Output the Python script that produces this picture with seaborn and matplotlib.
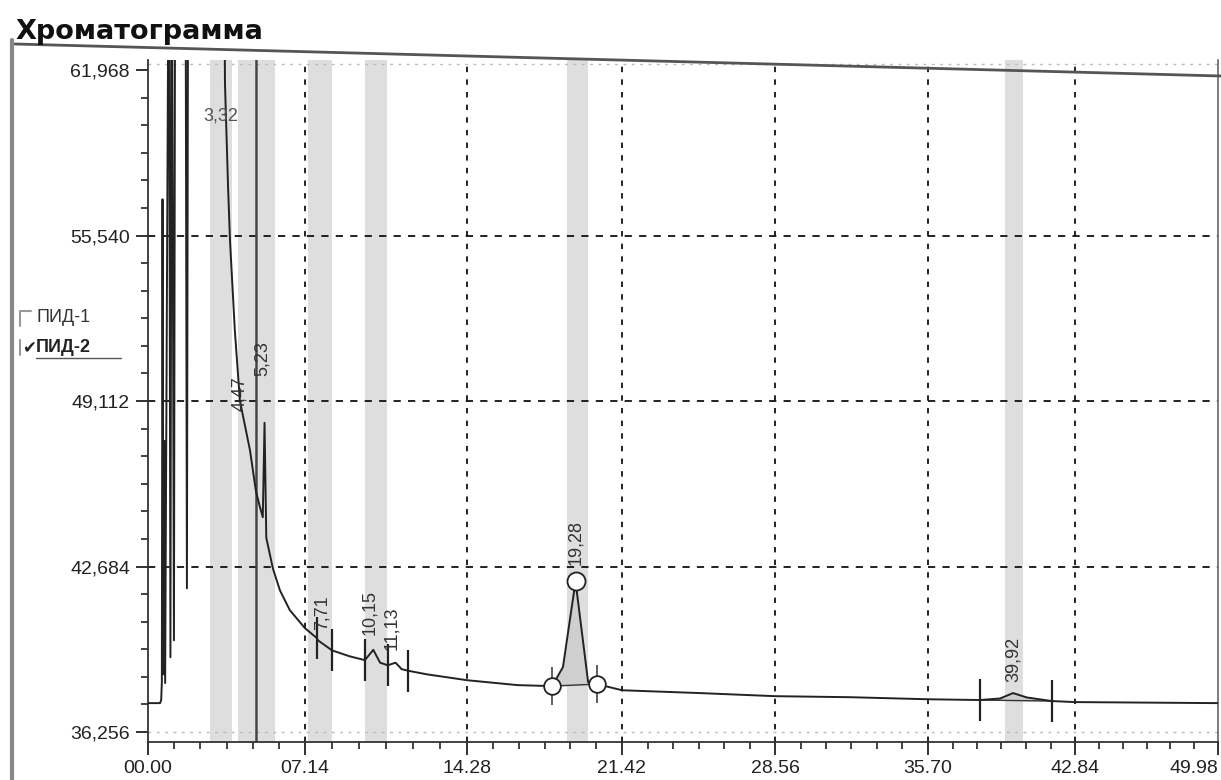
import numpy as np
import pandas as pd
import matplotlib
matplotlib.use("Agg")
import matplotlib.pyplot as plt
from matplotlib.lines import Line2D
import seaborn as sns

# ---------------- data ----------------
time_min = [0.00, 0.55, 0.60, 0.63, 0.66, 0.70, 0.74, 0.78, 0.95, 1.02, 1.08, 1.18,
            1.24, 1.70, 1.77, 1.83, 3.45, 3.50, 3.64, 3.73, 3.95, 4.18, 4.41, 4.64,
            4.91, 5.09, 5.22, 5.30, 5.38, 5.68, 6.00, 6.45, 7.14, 7.67, 7.71, 8.33,
            9.10, 9.78, 10.15, 10.45, 10.79, 11.13, 11.40, 11.67, 12.50, 14.28, 16.60,
            18.20, 18.70, 19.28, 19.86, 20.27, 21.42, 25.06, 28.56, 32.07, 35.70,
            38.22, 39.20, 39.83, 40.50, 41.72, 42.84, 49.98]
signal = [37.38, 37.38, 37.50, 38.20, 56.95, 38.50, 47.57, 38.16, 70.0, 39.16, 70.0, 39.82,
          70.0, 70.0, 41.84, 70.0, 70.0, 61.45, 57.46, 55.33, 51.84, 49.12, 48.16, 47.19,
          45.60, 45.00, 44.60, 48.27, 43.80, 42.61, 41.76, 40.99, 40.29, 39.90, 39.82, 39.43,
          39.20, 39.05, 39.45, 38.95, 38.85, 38.95, 38.70, 38.64, 38.50, 38.27, 38.08,
          38.04, 38.78, 42.11, 38.19, 38.12, 37.88, 37.77, 37.65, 37.61, 37.53,
          37.50, 37.56, 37.77, 37.60, 37.46, 37.42, 37.38]

peak_labels = ["3,32", "4,47", "5,23", "7,71", "10,15", "11,13", "19,28", "39,92"]
label_t = [3.32, 4.18, 5.18, 7.90, 10.00, 10.95, 19.30, 39.83]
label_v = [60.17, 48.74, 50.09, 40.21, 40.02, 39.43, 42.73, 38.19]
label_rot = [0, 90, 90, 90, 90, 90, 90, 90]

band_start = [2.82, 4.09, 5.00, 7.27, 9.78, 18.89, 39.44]
band_end = [3.82, 4.91, 5.77, 8.33, 10.75, 19.86, 40.31]

marker_t = [7.67, 8.33, 9.78, 10.79, 11.67, 38.22, 41.72]
marker_v = [39.90, 39.43, 39.05, 38.85, 38.64, 37.50, 37.46]

peak19_base_t = [18.20, 20.27]
peak19_base_v = [38.04, 38.12]
peak19_apex = (19.28, 42.11)
peak39_base_t = [38.22, 41.72]
peak39_base_v = [37.50, 37.46]

event_line_t = 4.91

x_ticks = [0.00, 7.14, 14.28, 21.42, 28.56, 35.70, 42.84, 49.98]
x_tick_labels = ["00.00", "07.14", "14.28", "21.42", "28.56", "35.70", "42.84", "49.98"]
y_ticks = [36.256, 42.684, 49.112, 55.540, 61.968]
y_tick_labels = ["36,256", "42,684", "49,112", "55,540", "61,968"]

title = "Хроматограмма"
legend_items = ["ПИД-1", "ПИД-2"]

# measured (slightly non-linear, scanned) spacing of the time axis
x_tick_spacing = [0, 157, 319, 474, 627, 780, 927, 1070]


def _fwd(t):
    t = np.asarray(t, dtype=float)
    out = np.interp(t, x_ticks, x_tick_spacing)
    lo = t < x_ticks[0]
    hi = t > x_ticks[-1]
    out = np.where(lo, x_tick_spacing[0] + (t - x_ticks[0]) * 22.0, out)
    out = np.where(hi, x_tick_spacing[-1] + (t - x_ticks[-1]) * 20.0, out)
    return out


def _inv(p):
    p = np.asarray(p, dtype=float)
    out = np.interp(p, x_tick_spacing, x_ticks)
    lo = p < x_tick_spacing[0]
    hi = p > x_tick_spacing[-1]
    out = np.where(lo, x_ticks[0] + (p - x_tick_spacing[0]) / 22.0, out)
    out = np.where(hi, x_ticks[-1] + (p - x_tick_spacing[-1]) / 20.0, out)
    return out


# ---------------- drawing ----------------
sns.set_theme(style="white")
plt.rcParams["font.family"] = ["Liberation Sans", "DejaVu Sans"]

fig = plt.figure(figsize=(12.21, 7.8), dpi=100)
ax = fig.add_axes([148 / 1221, 1 - 742 / 780, (1218 - 148) / 1221, (742 - 60) / 780])
ax.set_xscale("function", functions=(_fwd, _inv))
ax.set_xlim(0, 49.98)
ax.set_ylim(35.87, 62.36)

# gray integration bands
for a, b in zip(band_start, band_end):
    ax.axvspan(a, b, color="#d4d4d4", alpha=0.75, lw=0, zorder=0)

# grid
for xt in x_ticks[1:-1]:
    ax.axvline(xt, color="#111111", lw=1.3, ls=(0, (3, 4)), zorder=1)
for yt in y_ticks[1:-1]:
    ax.axhline(yt, color="#111111", lw=1.3, ls=(0, (4, 4)), zorder=1)
ax.axhline(y_ticks[0], color="#bbbbbb", lw=1.0, ls=(0, (2, 4)), zorder=1)
ax.axhline(62.2, color="#bbbbbb", lw=1.0, ls=(0, (2, 4)), zorder=1)

# event line
ax.axvline(event_line_t, color="#444444", lw=1.8, zorder=2)

df = pd.DataFrame({"t": time_min, "v": signal})

# fill under the integrated peaks
mask19 = (df.t >= peak19_base_t[0]) & (df.t <= peak19_base_t[1])
seg = df[mask19]
base19 = np.interp(seg.t, peak19_base_t, peak19_base_v)
ax.fill_between(seg.t, base19, seg.v, color="#cfcfcf", zorder=2, lw=0)
mask39 = (df.t >= peak39_base_t[0]) & (df.t <= peak39_base_t[1])
seg39 = df[mask39]
base39 = np.interp(seg39.t, peak39_base_t, peak39_base_v)
ax.fill_between(seg39.t, base39, seg39.v, color="#cfcfcf", zorder=2, lw=0)
ax.plot(peak19_base_t, peak19_base_v, color="#333333", lw=1.0, zorder=3)
ax.plot(peak39_base_t, peak39_base_v, color="#333333", lw=1.0, zorder=3)

sns.lineplot(data=df, x="t", y="v", ax=ax, color="#222222", lw=1.4,
             estimator=None, sort=False, zorder=4)

# peak boundary markers
ax.plot(marker_t, marker_v, ls="none", marker="|", ms=30, mew=1.6, color="#222222", zorder=5)
ax.plot(peak19_base_t, peak19_base_v, ls="none", marker="|", ms=28, mew=1.2, color="#444444", zorder=5)
ax.plot(peak19_base_t, peak19_base_v, ls="none", marker="o", ms=12, mfc="white", mec="#222222", mew=1.3, zorder=6)
ax.plot([peak19_apex[0]], [peak19_apex[1]], ls="none", marker="o", ms=13, mfc="white", mec="#222222", mew=1.3, zorder=6)

# peak labels
for s, tt, vv, r in zip(peak_labels, label_t, label_v, label_rot):
    if r == 0:
        ax.text(tt, vv, s, ha="center", va="center", fontsize=13, color="#555555", zorder=7)
    else:
        ax.text(tt, vv, s, ha="center", va="bottom", rotation=90, fontsize=13, color="#333333", zorder=7)

# axes styling
ax.set_xticks(x_ticks)
ax.set_xticklabels(x_tick_labels, fontsize=14, color="#222222")
ax.get_xticklabels()[-1].set_horizontalalignment("right")
ax.set_yticks(y_ticks)
ax.set_yticklabels(y_tick_labels, fontsize=14, color="#222222")
ax.set_xticks(np.arange(0, 49.99, 7.14 / 6), minor=True)
ax.set_yticks(np.arange(36.256, 62.3, 6.428 / 6), minor=True)
ax.tick_params(axis="both", which="major", direction="out", length=9, width=1.3, color="#222222", pad=4)
ax.tick_params(axis="both", which="minor", direction="out", length=5, width=1.2, color="#222222")
ax.tick_params(axis="x", which="both", bottom=True)
ax.tick_params(axis="y", which="both", left=True)
ax.set_xlabel("")
ax.set_ylabel("")
for side in ["left", "bottom"]:
    ax.spines[side].set_color("#333333")
    ax.spines[side].set_linewidth(1.3)
ax.spines["right"].set_color("#666666")
ax.spines["right"].set_linewidth(1.2)
ax.spines["top"].set_visible(False)

# title and panel frame
fig.text(15 / 1221, 1 - 39 / 780, title, fontsize=19.5, fontweight="bold", color="#111111",
         ha="left", va="baseline", family=["DejaVu Sans"])
fig.add_artist(Line2D([15 / 1221, 1.0], [1 - 44 / 780, 1 - 76 / 780], color="#555555", lw=2.0,
                      transform=fig.transFigure))
fig.add_artist(Line2D([12 / 1221, 12 / 1221], [1 - 40 / 780, 0.0], color="#888888", lw=3.0,
                      transform=fig.transFigure))

# legend checkboxes
fig.add_artist(Line2D([20 / 1221, 20 / 1221, 31 / 1221], [1 - 326 / 780, 1 - 311 / 780, 1 - 311 / 780],
                      color="#999999", lw=1.5, transform=fig.transFigure))
fig.text(36 / 1221, 1 - 318 / 780, legend_items[0], fontsize=13, color="#333333", ha="left", va="center")
fig.add_artist(Line2D([20 / 1221, 20 / 1221], [1 - 355 / 780, 1 - 340 / 780],
                      color="#999999", lw=1.5, transform=fig.transFigure))
fig.text(22 / 1221, 1 - 348 / 780, "✔", fontsize=12, color="#222222", ha="left", va="center",
         family=["DejaVu Sans"])
fig.text(36 / 1221, 1 - 347 / 780, legend_items[1], fontsize=13, color="#222222", ha="left",
         va="center", fontweight="bold")
fig.add_artist(Line2D([36 / 1221, 121 / 1221], [1 - 358 / 780, 1 - 358 / 780], color="#555555", lw=1.0,
                      transform=fig.transFigure))

fig.savefig("out.png", dpi=100)
